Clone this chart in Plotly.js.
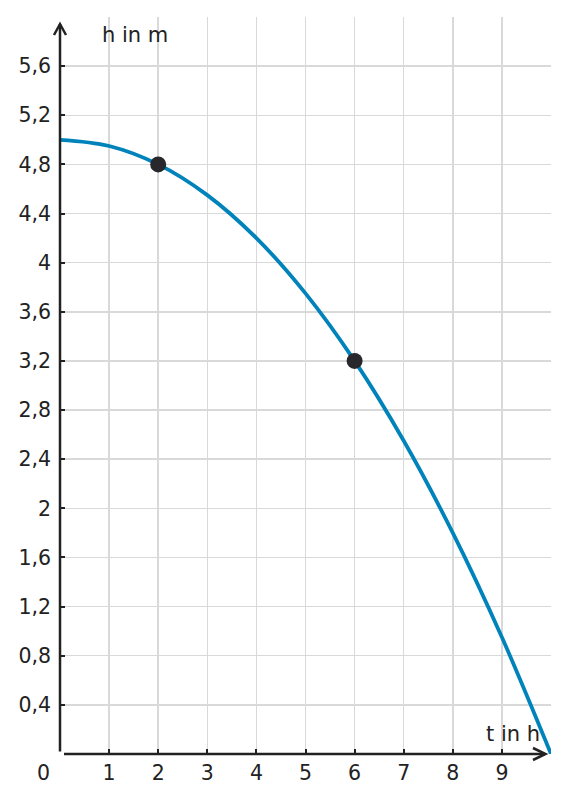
<!DOCTYPE html>
<html><head><meta charset="utf-8">
<script src="https://cdn.plot.ly/plotly-3.0.1.min.js"></script>
<style>html,body{margin:0;padding:0;background:#fff}</style>
</head><body><div id="chart" style="width:569px;height:803px"></div>
<script>
// Data
const tValues = [0, 1, 2, 3, 4, 5, 6, 7, 8, 9, 10];
const hValues = [5.0, 4.95, 4.8, 4.55, 4.2, 3.75, 3.2, 2.55, 1.8, 0.95, 0.0];
const pointT = [2, 6];
const pointH = [4.8, 3.2];
const xTickVals = [1, 2, 3, 4, 5, 6, 7, 8, 9];
const xTickText = ['1', '2', '3', '4', '5', '6', '7', '8', '9'];
const yTickVals = [0.4, 0.8, 1.2, 1.6, 2.0, 2.4, 2.8, 3.2, 3.6, 4.0, 4.4, 4.8, 5.2, 5.6];
const yTickText = ['0,4', '0,8', '1,2', '1,6', '2', '2,4', '2,8', '3,2', '3,6', '4', '4,4', '4,8', '5,2', '5,6'];
const xLabel = 't in h';
const yLabel = 'h in m';
const originLabel = '0';

const W = 569, H = 803;
const M = {l: 60, r: 18, t: 17, b: 49};
const PW = W - M.l - M.r, PH = H - M.t - M.b;
const px2x = p => (p - M.l) / PW;
const px2y = p => (H - M.b - p) / PH;

const INK = '#222222';
const FONT = {family: 'DejaVu Sans', size: 21, color: INK};
const TICKFONT = {family: 'DejaVu Sans', size: 20.5, color: INK};

const traces = [
  {x: tValues, y: hValues, mode: 'lines', line: {color: '#0083BA', width: 3.8, shape: 'spline'}, hoverinfo: 'skip'},
  {x: pointT, y: pointH, mode: 'markers', marker: {color: '#27272c', size: 16}, hoverinfo: 'skip'}
];

const pixShape = (path) => ({
  type: 'path', xref: 'paper', yref: 'paper', xsizemode: 'pixel', ysizemode: 'pixel',
  xanchor: 0, yanchor: 0, path: path, line: {color: INK, width: 2.5}, layer: 'above'
});

const layout = {
  width: W, height: H, margin: Object.assign({}, M, {autoexpand: false}), showlegend: false,
  paper_bgcolor: '#fff', plot_bgcolor: '#fff',
  font: FONT,
  xaxis: {range: [0, 10], tickvals: xTickVals, ticktext: xTickText, showgrid: true,
          gridcolor: '#d9d9d9', gridwidth: 1.5, zeroline: false, showline: false,
          ticks: 'inside', ticklen: 5, tickwidth: 2, tickcolor: INK, tickfont: TICKFONT,
          ticklabelstandoff: 4, fixedrange: true},
  yaxis: {range: [0, 6], tickvals: yTickVals, ticktext: yTickText, showgrid: true,
          gridcolor: '#d9d9d9', gridwidth: 1.5, zeroline: false, showline: false,
          ticks: 'inside', ticklen: 5, tickwidth: 2, tickcolor: INK, tickfont: TICKFONT,
          ticklabelstandoff: 8, fixedrange: true},
  shapes: [
    pixShape('M0,2.5 L0,730'),
    pixShape('M-6,719 L0,730 L6,719'),
    pixShape('M4,0 L485,0'),
    pixShape('M473,6 L485.5,0 L473,-6')
  ],
  annotations: [
    {text: yLabel, xref: 'paper', yref: 'paper', x: px2x(135), y: px2y(35), xanchor: 'center', yanchor: 'middle', showarrow: false, font: FONT},
    {text: xLabel, xref: 'paper', yref: 'paper', x: px2x(513), y: px2y(734), xanchor: 'center', yanchor: 'middle', showarrow: false, font: FONT},
    {text: originLabel, xref: 'paper', yref: 'paper', x: px2x(43), y: px2y(773), xanchor: 'center', yanchor: 'middle', showarrow: false, font: TICKFONT}
  ]
};

Plotly.newPlot('chart', traces, layout, {displayModeBar: false, staticPlot: true});
</script></body></html>
